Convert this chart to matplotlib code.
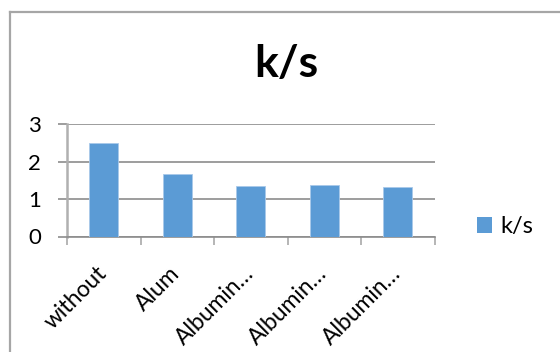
import matplotlib
matplotlib.use('Agg')
import matplotlib.pyplot as plt
from matplotlib.lines import Line2D
from matplotlib.patches import Patch
from matplotlib.transforms import ScaledTranslation

# data
categories = ['without', 'Alum', 'Albumin…', 'Albumin…', 'Albumin…']
ks_values = [2.50, 1.68, 1.36, 1.38, 1.31]
y_ticks = [0, 1, 2, 3]

plt.rcParams['font.family'] = ['Lato', 'DejaVu Sans']

W, H = 560, 352
fig = plt.figure(figsize=(W / 100, H / 100), dpi=100)
ax = fig.add_axes([67 / W, (H - 236.5) / H, 367.5 / W, 112.5 / H])

x = list(range(len(categories)))
ax.bar(x, ks_values, width=0.4, color='#5b9bd5', edgecolor='#a9c9ea',
       linewidth=0.6, zorder=3, label='k/s')

ax.set_xlim(-0.5, len(categories) - 0.5)
ax.set_ylim(0, 3)
ax.set_yticks(y_ticks)
ax.yaxis.grid(True, color='#8c8c8c', linewidth=1.2, zorder=0)

for side in ['top', 'right']:
    ax.spines[side].set_visible(False)
ax.spines['left'].set_color('#b0b0b0')
ax.spines['left'].set_linewidth(1.8)
ax.spines['bottom'].set_color('#8c8c8c')
ax.spines['bottom'].set_linewidth(1.2)

ax.tick_params(axis='y', length=6.5, width=1.2, color='#8c8c8c',
               labelsize=16, pad=12)
ax.set_xticks(x)
ax.set_xticklabels(categories, rotation=45, ha='right',
                   rotation_mode='anchor', fontsize=16.5)
ax.tick_params(axis='x', which='major', length=0, pad=19)
shift = ScaledTranslation(-8 / 100, 0, fig.dpi_scale_trans)
for lbl in ax.get_xticklabels():
    lbl.set_transform(lbl.get_transform() + shift)
ax.set_xticks([i - 0.5 for i in range(len(categories) + 1)], minor=True)
ax.tick_params(axis='x', which='minor', length=6, width=1.3,
               color='#b0b0b0')

fig.text(286 / W, (H - 77) / H, 'k/s', fontsize=32, fontweight='bold',
         ha='center', va='baseline')

fig.legend(handles=[Patch(facecolor='#5b9bd5', label='k/s')],
           loc='center left', bbox_to_anchor=(477 / W, (H - 227) / H),
           frameon=False, fontsize=17, handlelength=0.65, handleheight=0.65,
           handletextpad=0.35, borderpad=0, borderaxespad=0)

# chart frame (only left and top edges visible)
fig.add_artist(Line2D([10 / W, 10 / W], [0, (H - 12) / H],
                      transform=fig.transFigure, color='#a6a6a6', lw=1.6))
fig.add_artist(Line2D([10 / W, 1], [(H - 12) / H, (H - 12) / H],
                      transform=fig.transFigure, color='#a6a6a6', lw=1.6))

fig.savefig('out.png', dpi=100)
